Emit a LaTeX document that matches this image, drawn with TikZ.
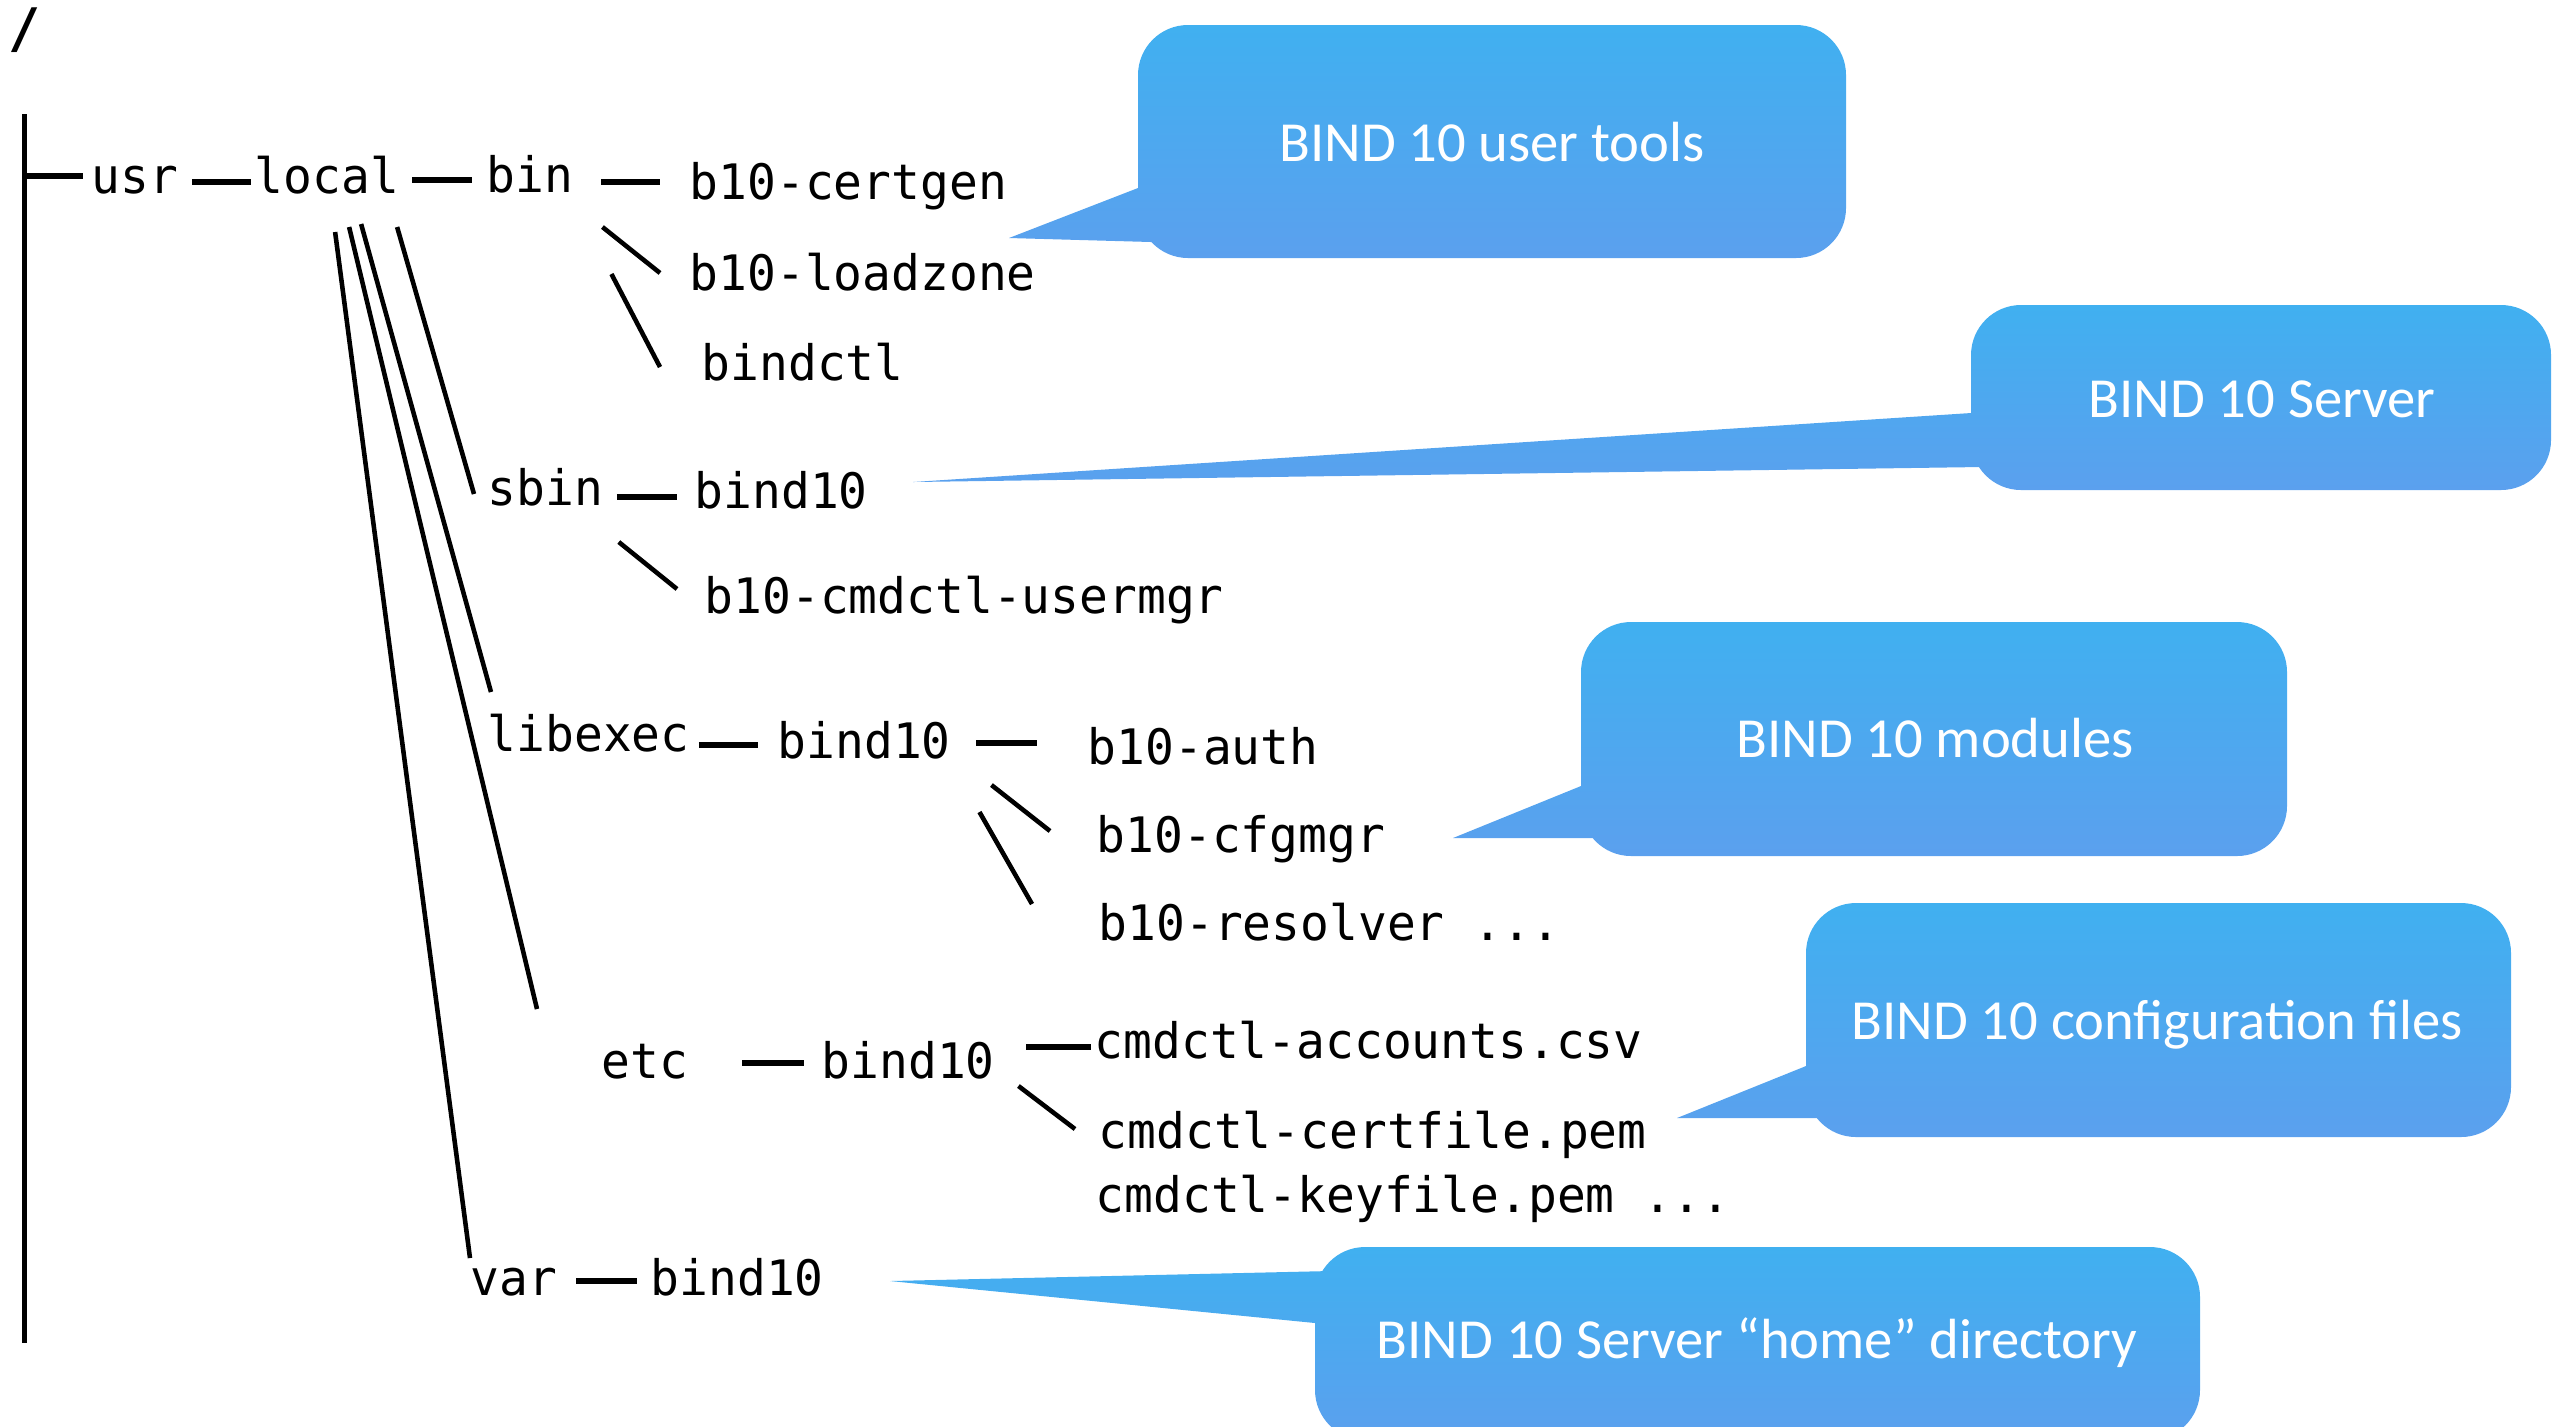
\documentclass[tikz,border=0pt]{standalone}
\usepackage{fontspec}
\usepackage{xcolor}
\usepackage{tikz}
\newfontfamily\treefont[FakeStretch=0.98]{DejaVu Sans Mono}
\newfontfamily\bubblefont{Carlito}
\definecolor{bubbleTop}{RGB}{64,176,240}
\definecolor{bubbleBottom}{RGB}{91,160,238}
\tikzstyle{dirNode} = [anchor=base west, inner sep=0pt, font=\treefont\fontsize{13.9}{16}\selectfont]
\tikzstyle{treeLine} = [line width=1.3pt]
\tikzstyle{shortBar} = [line width=1.7pt]
\tikzstyle{bubble} = [top color=bubbleTop, bottom color=bubbleBottom, draw=none]
\tikzstyle{bubbleText} = [
                anchor=base,
                inner sep=0pt,
                text=white,
                font=\bubblefont\fontsize{16.1}{19}\selectfont
            ]

\begin{document}
\begin{tikzpicture}[x=0.01cm, y=-0.01cm]
                            \useasboundingbox (0,0) rectangle (2561,1426);
                            \clip (0,0) rectangle (2561,1426);
                            % callouts
                            \shade[bubble] (1009,238) -- (1151,242) -- (1138,188) -- cycle
                                [rounded corners=0.5cm] (1138,25) -- (1138,258) -- (1846,258) -- (1846,25) -- cycle;
                            \shade[bubble] (913,482) -- (1981,467) -- (1971,413) -- cycle
                                [rounded corners=0.5cm] (1971,305) -- (1971,490) -- (2551,490) -- (2551,305) -- cycle;
                            \shade[bubble] (1453,838) -- (1597,838) -- (1581,786) -- cycle
                                [rounded corners=0.5cm] (1581,622) -- (1581,856) -- (2287,856) -- (2287,622) -- cycle;
                            \shade[bubble] (1677,1118) -- (1821,1118) -- (1806,1066) -- cycle
                                [rounded corners=0.5cm] (1806,903) -- (1806,1137) -- (2511,1137) -- (2511,903) -- cycle;
                            \shade[bubble] (890,1281) -- (1315,1323) -- (1330,1271) -- cycle
                                [rounded corners=0.5cm] (1315,1247) -- (1315,1440) -- (2200,1440) -- (2200,1247) -- cycle;
                            \node (toolsNote) [bubbleText] at (1492,161) {BIND 10 user tools};
                            \node (serverNote) [bubbleText] at (2262,417) {BIND 10 Server};
                            \node (modulesNote) [bubbleText] at (1935,757) {BIND 10 modules};
                            \node (configNote) [bubbleText] at (2157,1039) {BIND 10 configuration files};
                            \node (homeNote) [bubbleText] at (1757,1358) {BIND 10 Server “home” directory};
                            % tree
                            \node (root) [dirNode, font=\treefont\bfseries\fontsize{15.5}{18}\selectfont] at (8,47) {/};
                            \node (usr) [dirNode] at (91,193) {usr};
                            \node (local) [dirNode] at (254,193) {local};
                            \node (bin) [dirNode] at (486,192) {bin};
                            \node (certgen) [dirNode] at (689,199) {b10-certgen};
                            \node (loadzone) [dirNode] at (689,290) {b10-loadzone};
                            \node (bindctl) [dirNode] at (701,380) {bindctl};
                            \node (sbin) [dirNode] at (487,505) {sbin};
                            \node (sbinBind) [dirNode] at (694,508) {bind10};
                            \node (usermgr) [dirNode] at (704,613) {b10-cmdctl-usermgr};
                            \node (libexec) [dirNode] at (487,751) {libexec};
                            \node (libexecBind) [dirNode] at (777,758) {bind10};
                            \node (auth) [dirNode] at (1087,764) {b10-auth};
                            \node (cfgmgr) [dirNode] at (1096,852) {b10-cfgmgr};
                            \node (resolver) [dirNode] at (1098,940) {b10-resolver ...};
                            \node (etc) [dirNode] at (601,1078) {etc};
                            \node (etcBind) [dirNode] at (821,1078) {bind10};
                            \node (accounts) [dirNode] at (1094,1058) {cmdctl-accounts.csv};
                            \node (certfile) [dirNode] at (1098,1148) {cmdctl-certfile.pem};
                            \node (keyfile) [dirNode] at (1095,1212) {cmdctl-keyfile.pem ...};
                            \node (var) [dirNode] at (470,1295) {var};
                            \node (varBind) [dirNode] at (650,1295) {bind10};
                            \coordinate (trunkTop) at (24.5,114);
                            \coordinate (trunkEnd) at (24.5,1343);
                            \coordinate (usrStub) at ([shift={(-8,-17)}]usr.base west);
                            \draw [treeLine] (trunkTop) -- (trunkEnd);
                            \draw [shortBar] (usrStub -| trunkTop) -- (usrStub);
                            \draw [shortBar] ([shift={(13.5,-11)}]usr.base east) -- ([shift={(-3,-11)}]local.base west);
                            \draw [shortBar] ([shift={(12.5,-13)}]local.base east) -- ([shift={(-14,-12)}]bin.base west);
                            \draw [shortBar] ([shift={(27.5,-10)}]bin.base east) -- ([shift={(-29,-17)}]certgen.base west);
                            \draw [treeLine] ([shift={(28.5,35)}]bin.base east) -- ([shift={(-29,-17)}]loadzone.base west);
                            \draw [treeLine] ([shift={(37.5,82)}]bin.base east) -- ([shift={(-41,-13)}]bindctl.base west);
                            \draw [treeLine] ([shift={(-2.5,34)}]local.base east) -- ([shift={(-13,-11)}]sbin.base west);
                            \draw [treeLine] ([shift={(-38.5,31)}]local.base east) -- ([shift={(4,-59)}]libexec.base west);
                            \draw [treeLine] ([shift={(-50.5,34)}]local.base east) -- ([shift={(-64,-69)}]etc.base west);
                            \draw [treeLine] ([shift={(-64.5,39)}]local.base east) -- ([shift={(0,-37)}]var.base west);
                            \draw [shortBar] ([shift={(13,-8)}]sbin.base east) -- ([shift={(-17,-11)}]sbinBind.base west);
                            \draw [treeLine] ([shift={(15,37)}]sbin.base east) -- ([shift={(-27,-24)}]usermgr.base west);
                            \draw [shortBar] ([shift={(8.5,-6)}]libexec.base east) -- ([shift={(-19,-13)}]libexecBind.base west);
                            \draw [shortBar] ([shift={(25,-15)}]libexecBind.base east) -- ([shift={(-50,-21)}]auth.base west);
                            \draw [treeLine] ([shift={(40,27)}]libexecBind.base east) -- ([shift={(-46,-21)}]cfgmgr.base west);
                            \draw [treeLine] ([shift={(28,54)}]libexecBind.base east) -- ([shift={(-66,-36)}]resolver.base west);
                            \draw [shortBar] ([shift={(53.5,-15)}]etc.base east) -- ([shift={(-17,-15)}]etcBind.base west);
                            \draw [shortBar] ([shift={(31,-31)}]etcBind.base east) -- ([shift={(-3,-11)}]accounts.base west);
                            \draw [treeLine] ([shift={(23,8)}]etcBind.base east) -- ([shift={(-23,-19)}]certfile.base west);
                            \draw [shortBar] ([shift={(18.5,-14)}]var.base east) -- ([shift={(-13,-14)}]varBind.base west);
                        \end{tikzpicture}
\end{document}
